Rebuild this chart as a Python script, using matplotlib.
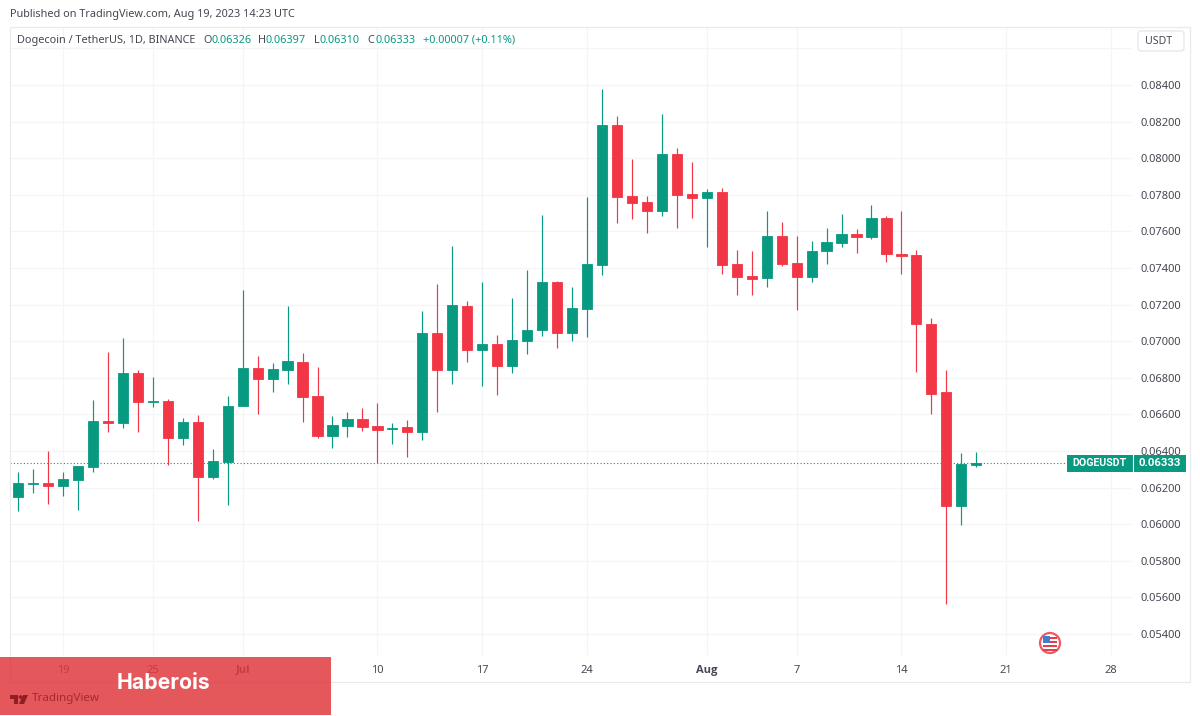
import numpy as np
import pandas as pd
import matplotlib
matplotlib.use('Agg')
import matplotlib.pyplot as plt
import matplotlib.dates as mdates
from matplotlib.patches import Rectangle, Circle, Polygon, FancyBboxPatch

plt.rcParams['font.family'] = ['Noto Sans', 'DejaVu Sans']

first_day = '2023-06-16'
last_day = '2023-08-19'

opens = [.06150, .06222, .06224, .06209, .06240, .06314, .06562, .06555, .06826, .06666, .06675, .06473, .06558,
         .06256, .06338, .06644, .06854, .06795, .06844, .06888, .06701, .06482, .06538, .06575, .06538, .06519,
         .06533, .06504, .07043, .06844, .07194, .06950, .06983, .06866, .07003, .07061, .07322, .07045, .07174,
         .07416, .08181, .07793, .07761, .07710, .08023, .07803, .07784, .07814, .07420, .07358, .07344, .07573,
         .07426, .07349, .07495, .07537, .07587, .07569, .07672, .07478, .07473, .07094, .06722, .06100, .06326]
highs = [.06285, .06302, .06402, .06285, .06318, .06679, .06939, .07016, .06843, .06803, .06684, .06579, .06597,
         .06411, .06701, .07280, .06921, .06879, .07191, .06937, .06857, .06591, .06613, .06637, .06661, .06551,
         .06569, .07167, .07311, .07520, .07221, .07325, .07032, .07238, .07389, .07688, .07331, .07295, .07788,
         .08376, .08231, .07994, .07793, .08240, .08056, .07978, .07830, .07839, .07498, .07493, .07710, .07653,
         .07575, .07546, .07620, .07695, .07611, .07746, .07686, .07711, .07497, .07127, .06843, .06387, .06397]
lows = [.06070, .06172, .06109, .06154, .06078, .06287, .06504, .06527, .06505, .06639, .06324, .06434, .06017,
        .06247, .06103, .06644, .06602, .06724, .06766, .06560, .06469, .06415, .06477, .06511, .06333, .06440,
        .06366, .06462, .06613, .06768, .06888, .06755, .06708, .06828, .06928, .07030, .06964, .07000, .07023,
        .07363, .07648, .07668, .07590, .07686, .07620, .07673, .07516, .07367, .07254, .07254, .07295, .07411,
        .07169, .07322, .07422, .07516, .07484, .07560, .07431, .07366, .06833, .06602, .05562, .05994, .06310]
closes = [.06224, .06226, .06209, .06249, .06318, .06564, .06555, .06826, .06666, .06673, .06473, .06558, .06256,
          .06344, .06648, .06854, .06795, .06848, .06890, .06697, .06482, .06542, .06575, .06533, .06516, .06527,
          .06504, .07043, .06844, .07199, .06950, .06983, .06866, .07005, .07063, .07322, .07045, .07180, .07420,
          .08181, .07788, .07757, .07710, .08023, .07801, .07784, .07814, .07416, .07352, .07342, .07573, .07422,
          .07349, .07493, .07540, .07587, .07569, .07672, .07475, .07464, .07092, .06713, .06100, .06331, .06333]

price_ticks = [.054, .056, .058, .060, .062, .064, .066, .068, .070, .072, .074, .076, .078, .080, .082, .084, .086]
date_ticks = ['2023-06-19', '2023-06-25', '2023-07-01', '2023-07-10', '2023-07-17', '2023-07-24',
              '2023-08-01', '2023-08-07', '2023-08-14', '2023-08-21', '2023-08-28']
date_labels = ['19', '25', 'Jul', '10', '17', '24', 'Aug', '7', '14', '21', '28']
last_price = .06333

GREEN = '#089981'
RED = '#f23645'
GRID = '#f4f5f8'
TEXT = '#454852'

W, H = 1200, 716
fig = plt.figure(figsize=(W / 100, H / 100), dpi=100, facecolor='white')

# main price pane, position given in pixels of the 1200x716 picture
ax = fig.add_axes([10 / W, 1 - 655 / H, 1122 / W, 628 / H])
days = mdates.date2num(pd.date_range(first_day, last_day))
opens, highs, lows, closes = map(np.array, (opens, highs, lows, closes))
colors = np.where(closes >= opens, GREEN, RED)

ax.vlines(days, lows, highs, colors=colors, linewidth=0.85, zorder=3)
ax.bar(days, np.abs(closes - opens), bottom=np.minimum(opens, closes), width=0.68,
       color=colors, edgecolor=colors, linewidth=0.6, zorder=4)
ax.axhline(last_price, color=GREEN, linewidth=0.8, linestyle=(0, (1, 2)), zorder=2)

ax.set_xlim(days[0] - 0.54, days[0] + 74.4)
ax.set_ylim(.05285, .08717)

ax.set_yticks(price_ticks[:-1])
ax.set_yticklabels(['%.5f' % p for p in price_ticks[:-1]])
ax.yaxis.tick_right()
ax.set_yticks(price_ticks[-1:], minor=True)
ax.set_xticks(mdates.date2num(pd.to_datetime(date_ticks)))
ax.set_xticklabels(date_labels)
ax.tick_params(axis='both', which='both', length=0, labelsize=8, labelcolor=TEXT)
ax.tick_params(axis='x', pad=7)
ax.tick_params(axis='y', pad=6)
for lab in ax.get_xticklabels():
  if lab.get_text() in ('Jul', 'Aug'):
    lab.set_family('Open Sans')
    lab.set_fontweight('bold')
ax.grid(True, which='both', color=GRID, linewidth=0.9, zorder=0)
ax.set_axisbelow(True)
for s in ax.spines.values():
  s.set_visible(False)

# overlay in picture pixels for the TradingView furniture
ov = fig.add_axes([0, 0, 1, 1], zorder=10)
ov.set_xlim(0, W)
ov.set_ylim(H, 0)
ov.axis('off')

ov.add_patch(Rectangle((9.5, 26.5), 1180.5, 655, fill=False, edgecolor='#e8eaee', linewidth=0.9))
ov.text(10, 14.5, 'Published on TradingView.com, Aug 19, 2023 14:23 UTC', fontsize=7.85, color=TEXT, va='center')

ov.text(17, 40.5, 'Dogecoin / TetherUS, 1D, BINANCE', fontsize=7.85, color=TEXT, va='center')
for x, lab, val, gap in [(203, 'O', '0.06326', 8), (258, 'H', '0.06397', 8), (314, 'L', '0.06310', 6), (367, 'C', '0.06333', 8)]:
  ov.text(x, 40.5, lab, fontsize=7.85, color=TEXT, va='center')
  ov.text(x + gap, 40.5, val, fontsize=7.85, color=GREEN, va='center')
ov.text(423, 40.5, '+0.00007 (+0.11%)', fontsize=7.85, color=GREEN, va='center')

ov.add_patch(FancyBboxPatch((1138, 31), 46, 20, boxstyle='round,pad=0,rounding_size=3',
                            facecolor='white', edgecolor='#e4e6eb', linewidth=0.9))
ov.text(1159, 41, 'USDT', fontsize=7.6, color=TEXT, ha='center', va='center')

# last price tag
ov.add_patch(Rectangle((1067, 455), 119, 17, facecolor=GREEN, edgecolor='none'))
ov.plot([1132.5, 1132.5], [455, 472], color='white', linewidth=0.8)
ov.text(1099.5, 463.5, 'DOGEUSDT', fontsize=7.6, color='white', ha='center', va='center', fontweight='bold', family='Roboto')
ov.text(1160, 463.5, '0.06333', fontsize=8.2, color='white', ha='center', va='center', fontweight='bold', family='Roboto')

# US calendar event flag
ov.add_patch(Circle((1050, 643), 10, facecolor='white', edgecolor='#ef5a62', linewidth=1.6))
for yy in (637, 641, 645, 649):
  ov.add_patch(Rectangle((1043, yy), 14, 1.7, facecolor='#e2404c', edgecolor='none'))
ov.add_patch(Rectangle((1043, 636), 7, 6.5, facecolor='#3f7fd6', edgecolor='none'))

# publisher banner
ov.add_patch(Rectangle((0, 657), 331, 58, facecolor='#e0393e', alpha=0.85, edgecolor='none'))
ov.text(117, 683, 'Haberois', fontsize=15.3, color='white', fontweight='bold', family='Inter', va='center')
ov.text(32, 699, 'TradingView', fontsize=8.4, color='#a8292f', va='center')
ov.add_patch(Polygon([(10, 695), (18, 695), (18, 704), (14, 704), (14, 698.5), (10, 698.5)], facecolor='#8f1f25', edgecolor='none'))
ov.add_patch(Circle((20.5, 697), 1.8, facecolor='#8f1f25', edgecolor='none'))
ov.add_patch(Polygon([(23, 695), (28, 695), (24, 704), (19, 704)], facecolor='#8f1f25', edgecolor='none'))

fig.savefig('out.png', dpi=100)
